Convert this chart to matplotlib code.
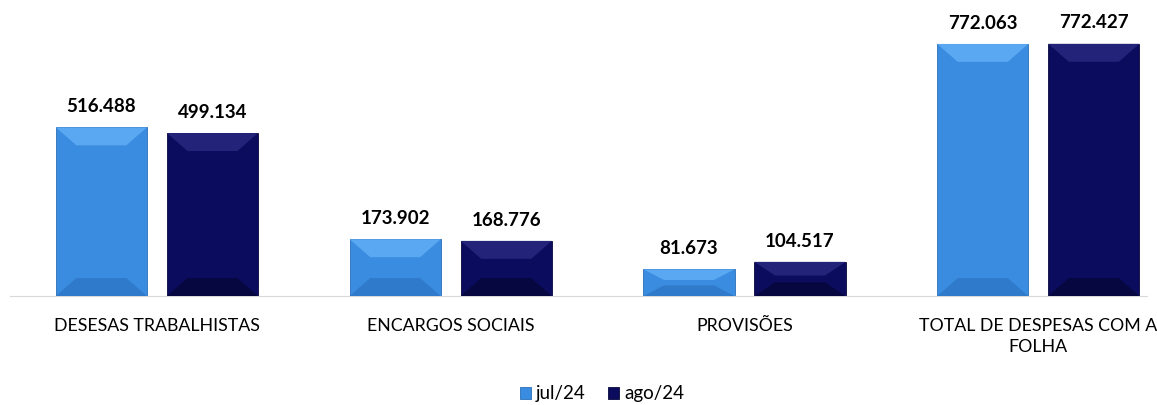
import matplotlib.pyplot as plt
from matplotlib.patches import Polygon
import numpy as np

categorias = ["DESESAS TRABALHISTAS", "ENCARGOS SOCIAIS", "PROVISÕES",
              "TOTAL DE DESPESAS COM A\nFOLHA"]
jul24 = [516488, 173902, 81673, 772063]
ago24 = [499134, 168776, 104517, 772427]
rotulos_jul = ["516.488", "173.902", "81.673", "772.063"]
rotulos_ago = ["499.134", "168.776", "104.517", "772.427"]

plt.rcParams["font.family"] = ["Lato", "DejaVu Sans"]

fig = plt.figure(figsize=(11.57, 4.05), dpi=100)
ax = fig.add_axes([10 / 1157, 109 / 405, 1137 / 1157, 286 / 405])

x = np.arange(len(categorias))
largura = 0.31
desloc = 0.189
cor_jul = "#3a8ce0"
cor_ago = "#0c0c5e"

barras_jul = ax.bar(x - desloc, jul24, largura, color=cor_jul, label="jul/24",
                    edgecolor="#2a6fb8", linewidth=0.6)
barras_ago = ax.bar(x + desloc, ago24, largura, color=cor_ago, label="ago/24",
                    edgecolor="#07073a", linewidth=0.6)

ax.set_xlim(-0.50, 3.37)
ax.set_ylim(0, 876000)

# efeito de bisel nas barras
bx = 0.07
by = 55000
for barras, claro, escuro in [(barras_jul, "#5aa8f2", "#2f7acb"),
                              (barras_ago, "#23237a", "#060640")]:
    for b in barras:
        x0, w, h = b.get_x(), b.get_width(), b.get_height()
        dy = min(by, h / 2.5)
        ax.add_patch(Polygon([(x0, h), (x0 + w, h), (x0 + w - bx, h - dy), (x0 + bx, h - dy)],
                             closed=True, color=claro, lw=0, zorder=3))
        ax.add_patch(Polygon([(x0, 0), (x0 + w, 0), (x0 + w - bx, dy), (x0 + bx, dy)],
                             closed=True, color=escuro, lw=0, zorder=3))

for barras, rotulos in [(barras_jul, rotulos_jul), (barras_ago, rotulos_ago)]:
    for b, r in zip(barras, rotulos):
        ax.annotate(r, (b.get_x() + b.get_width() / 2, b.get_height()),
                    xytext=(0, 15), textcoords="offset points", ha="center",
                    va="center", fontsize=13.5, fontweight="bold")

ax.set_xticks(x)
ax.set_xticklabels(categorias, fontsize=12.8, linespacing=1.35)
ax.tick_params(axis="x", length=0, pad=16)
ax.set_yticks([])
for s in ["top", "right", "left"]:
    ax.spines[s].set_visible(False)
ax.spines["bottom"].set_color("#d9d9d9")

fig.legend(handles=[barras_jul, barras_ago], loc="center", bbox_to_anchor=(602 / 1157, 1 - 394 / 405),
           ncol=2, frameon=False, fontsize=13.5, handlelength=0.6, handleheight=0.6,
           handletextpad=0.25, columnspacing=1.2, borderpad=0)

fig.savefig("out.png", dpi=100)
